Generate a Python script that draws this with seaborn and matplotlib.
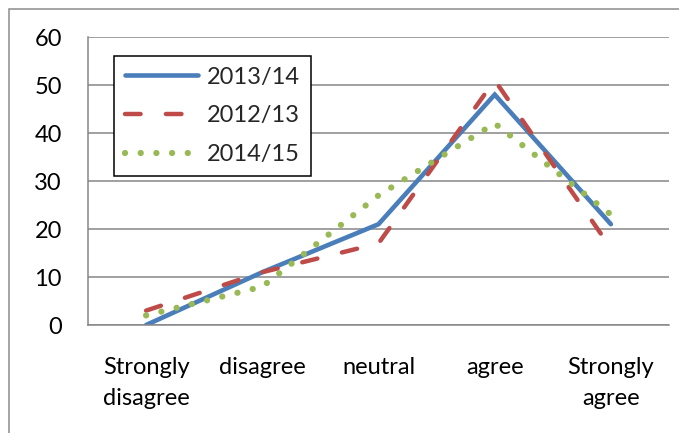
import numpy as np
import seaborn as sns
import matplotlib.pyplot as plt
from matplotlib.patches import Rectangle

categories = ["Strongly\ndisagree", "disagree", "neutral", "agree", "Strongly\nagree"]
series_names = ["2013/14", "2012/13", "2014/15"]
values_2013_14 = [0, 11, 21, 48, 21]
values_2012_13 = [3, 11, 17, 51, 16]
values_2014_15 = [2, 8, 27, 42, 23]
y_ticks = [0, 10, 20, 30, 40, 50, 60]

series = {
    "2013/14": values_2013_14,
    "2012/13": values_2012_13,
    "2014/15": values_2014_15,
}
styles = {
    "2013/14": dict(color="#4A7EBB", lw=3.3, ls="-"),
    "2012/13": dict(color="#BE4B48", lw=3.2, ls=(0, (3.5, 5.7))),
    "2014/15": dict(color="#98B954", lw=4.5, ls=(0, (0.01, 2.5))),
}

sns.set_style("white")
plt.rcParams["font.family"] = ["Lato", "DejaVu Sans"]
plt.rcParams["lines.dash_capstyle"] = "round"
plt.rcParams["lines.solid_capstyle"] = "round"
plt.rcParams["lines.dash_joinstyle"] = "miter"
plt.rcParams["lines.solid_joinstyle"] = "miter"

fig = plt.figure(figsize=(6.79, 4.33), dpi=100)
ax = fig.add_axes([88 / 679, 1 - 325 / 433, 581 / 679, 288 / 433])

grid_color = "#868686"
ax.set_axisbelow(True)
ax.grid(axis="y", color=grid_color, lw=1.1)

x = list(range(len(categories)))
for name in series_names:
    st = styles[name]
    sns.lineplot(x=x, y=series[name], color=st["color"], linewidth=st["lw"],
                 linestyle=st["ls"], label=name, ax=ax)

ax.set_xlim(-0.5, len(categories) - 0.5)
ax.set_ylim(0, 60)
ax.set_xlabel("")
ax.set_ylabel("")

ax.set_yticks(y_ticks)
ax.set_yticklabels([str(v) for v in y_ticks])
ax.set_xticks(np.arange(-0.5, len(categories), 1))
ax.set_xticklabels([])
ax.set_xticks(x, minor=True)
ax.set_xticklabels(categories, minor=True, linespacing=1.6)

ax.tick_params(axis="y", which="major", direction="out", length=5.8, width=1.1,
               color=grid_color, pad=13, labelsize=17, labelcolor="black")
ax.tick_params(axis="x", which="major", direction="out", length=5.8, width=1.1,
               color=grid_color)
ax.tick_params(axis="x", which="minor", length=0, pad=23, labelsize=17,
               labelcolor="black")

for side in ["top", "right"]:
    ax.spines[side].set_visible(False)
for side in ["left", "bottom"]:
    ax.spines[side].set_color(grid_color)
    ax.spines[side].set_linewidth(1.1)

leg = ax.legend(loc="upper left",
                bbox_to_anchor=((114 - 88) / 581, (325 - 56) / 288),
                borderaxespad=0, fancybox=False, framealpha=1,
                edgecolor="black", fontsize=17, handlelength=3.1,
                handletextpad=0.4, labelspacing=0.75, borderpad=0.45)
leg.get_frame().set_linewidth(1.1)

fig.add_artist(Rectangle((9 / 679, -0.2), 1.2, 1.2 - 9 / 433,
                         transform=fig.transFigure, fill=False,
                         edgecolor="#8C8C8C", lw=1.1))

fig.savefig("out.png", dpi=100)
